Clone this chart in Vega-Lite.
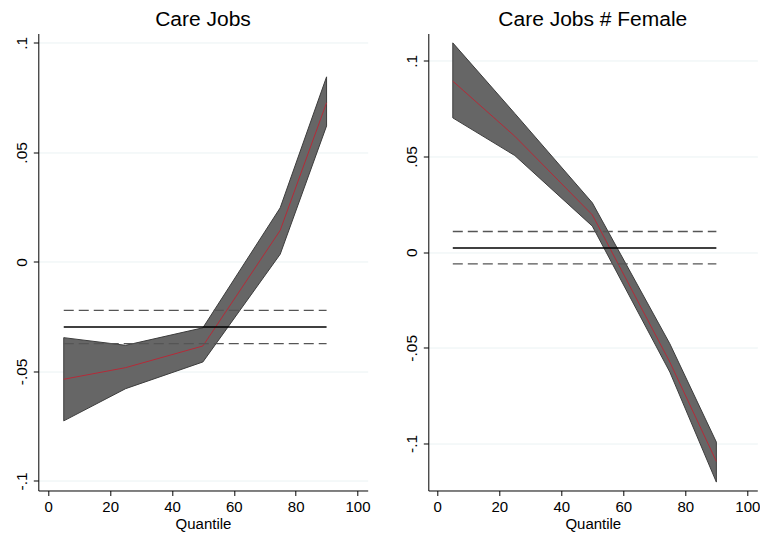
{
  "$schema": "https://vega.github.io/schema/vega-lite/v6.json",
  "padding": {"left": 8.3, "top": 8.5, "right": 0, "bottom": 0},
  "background": "white",
  "bounds": "flush",
  "spacing": 60,
  "config": {
    "font": "Liberation Sans",
    "view": {"stroke": null},
    "axis": {
      "domainColor": "#000000",
      "domainWidth": 1,
      "tickColor": "#000000",
      "tickSize": 5,
      "tickWidth": 1,
      "labelColor": "#000000",
      "labelFont": "Liberation Sans",
      "labelFontSize": 15,
      "titleFont": "Liberation Sans",
      "titleFontSize": 15,
      "titleFontWeight": "normal",
      "titleColor": "#000000",
      "gridColor": "#eaf2f3",
      "gridWidth": 1
    },
    "title": {
      "font": "Liberation Sans",
      "fontSize": 21,
      "fontWeight": "normal",
      "color": "#000000",
      "anchor": "middle",
      "frame": "group",
      "offset": 4
    }
  },
  "datasets": {
    "qr": [
      {"panel": "A", "q": 5, "lo": -0.0726, "est": -0.0536, "hi": -0.0346},
      {"panel": "A", "q": 25, "lo": -0.0579, "est": -0.0483, "hi": -0.0381},
      {"panel": "A", "q": 50, "lo": -0.0457, "est": -0.0384, "hi": -0.0301},
      {"panel": "A", "q": 75, "lo": 0.0035, "est": 0.0144, "hi": 0.0247},
      {"panel": "A", "q": 90, "lo": 0.0621, "est": 0.0727, "hi": 0.0845},
      {"panel": "B", "q": 5, "lo": 0.0702, "est": 0.0894, "hi": 0.1094},
      {"panel": "B", "q": 25, "lo": 0.0505, "est": 0.0606, "hi": 0.0725},
      {"panel": "B", "q": 50, "lo": 0.0136, "est": 0.0195, "hi": 0.0258},
      {"panel": "B", "q": 75, "lo": -0.0627, "est": -0.0575, "hi": -0.0479},
      {"panel": "B", "q": 90, "lo": -0.1202, "est": -0.1094, "hi": -0.0993}
    ],
    "ols": [
      {"panel": "A", "q": 5, "lo": -0.0373, "est": -0.0297, "hi": -0.0221},
      {"panel": "A", "q": 90, "lo": -0.0373, "est": -0.0297, "hi": -0.0221},
      {"panel": "B", "q": 5, "lo": -0.0061, "est": 0.0022, "hi": 0.0108},
      {"panel": "B", "q": 90, "lo": -0.0061, "est": 0.0022, "hi": 0.0108}
    ]
  },
  "hconcat": [
    {
      "width": 329.4,
      "height": 457,
      "title": {"text": "Care Jobs"},
      "encoding": {
        "x": {"field": "q", "type": "quantitative",
              "scale": {"domain": [-3.23, 103.3], "nice": false, "zero": false},
              "axis": {"values": [0, 20, 40, 60, 80, 100], "title": "Quantile", "grid": false, "labelPadding": 4, "titlePadding": 2, "labelFlush": false}}
      },
      "layer": [
        {
          "data": {"name": "qr"},
          "transform": [{"filter": "datum.panel == 'A'"}],
          "mark": {"type": "area", "color": "#666666", "stroke": "#3c3c3c", "strokeWidth": 1, "opacity": 1},
          "encoding": {
            "y": {"field": "hi", "type": "quantitative",
                  "scale": {"domain": [-0.1044, 0.1043], "nice": false, "zero": false},
                  "axis": {"values": [-0.1, -0.05, 0, 0.05, 0.1], "title": null, "grid": true, "labelAngle": -90, "labelAlign": "center", "labelBaseline": "alphabetic", "labelPadding": 6.6, "labelFontSize": 15.5, "minExtent": 30, "maxExtent": 30,
                           "labelExpr": "datum.value == 0 ? '0' : (datum.value < 0 ? '-' : '') + replace(format(abs(datum.value), '.2~f'), '0.', '.')"}},
            "y2": {"field": "lo"}
          }
        },
        {
          "data": {"name": "qr"},
          "transform": [{"filter": "datum.panel == 'A'"}],
          "mark": {"type": "line", "color": "#b52a38", "strokeWidth": 1},
          "encoding": {"y": {"field": "est", "type": "quantitative"}}
        },
        {
          "data": {"name": "ols"},
          "transform": [{"filter": "datum.panel == 'A'"}],
          "mark": {"type": "line", "color": "#000000", "strokeWidth": 1.4},
          "encoding": {"y": {"field": "est", "type": "quantitative"}}
        },
        {
          "data": {"name": "ols"},
          "transform": [{"filter": "datum.panel == 'A'"}],
          "mark": {"type": "line", "color": "#555555", "strokeWidth": 1.3, "strokeDash": [10, 5]},
          "encoding": {"y": {"field": "hi", "type": "quantitative"}}
        },
        {
          "data": {"name": "ols"},
          "transform": [{"filter": "datum.panel == 'A'"}],
          "mark": {"type": "line", "color": "#555555", "strokeWidth": 1.3, "strokeDash": [10, 5]},
          "encoding": {"y": {"field": "lo", "type": "quantitative"}}
        }
      ]
    },
    {
      "width": 329,
      "height": 457,
      "title": {"text": "Care Jobs # Female"},
      "encoding": {
        "x": {"field": "q", "type": "quantitative",
              "scale": {"domain": [-2.9, 103.2], "nice": false, "zero": false},
              "axis": {"values": [0, 20, 40, 60, 80, 100], "title": "Quantile", "grid": false, "labelPadding": 4, "titlePadding": 2, "labelFlush": false}}
      },
      "layer": [
        {
          "data": {"name": "qr"},
          "transform": [{"filter": "datum.panel == 'B'"}],
          "mark": {"type": "area", "color": "#666666", "stroke": "#3c3c3c", "strokeWidth": 1, "opacity": 1},
          "encoding": {
            "y": {"field": "hi", "type": "quantitative",
                  "scale": {"domain": [-0.1246, 0.1143], "nice": false, "zero": false},
                  "axis": {"values": [-0.1, -0.05, 0, 0.05, 0.1], "title": null, "grid": true, "labelAngle": -90, "labelAlign": "center", "labelBaseline": "alphabetic", "labelPadding": 6.6, "labelFontSize": 15.5, "minExtent": 30, "maxExtent": 30,
                           "labelExpr": "datum.value == 0 ? '0' : (datum.value < 0 ? '-' : '') + replace(format(abs(datum.value), '.2~f'), '0.', '.')"}},
            "y2": {"field": "lo"}
          }
        },
        {
          "data": {"name": "qr"},
          "transform": [{"filter": "datum.panel == 'B'"}],
          "mark": {"type": "line", "color": "#b52a38", "strokeWidth": 1},
          "encoding": {"y": {"field": "est", "type": "quantitative"}}
        },
        {
          "data": {"name": "ols"},
          "transform": [{"filter": "datum.panel == 'B'"}],
          "mark": {"type": "line", "color": "#000000", "strokeWidth": 1.4},
          "encoding": {"y": {"field": "est", "type": "quantitative"}}
        },
        {
          "data": {"name": "ols"},
          "transform": [{"filter": "datum.panel == 'B'"}],
          "mark": {"type": "line", "color": "#555555", "strokeWidth": 1.3, "strokeDash": [10, 5]},
          "encoding": {"y": {"field": "hi", "type": "quantitative"}}
        },
        {
          "data": {"name": "ols"},
          "transform": [{"filter": "datum.panel == 'B'"}],
          "mark": {"type": "line", "color": "#555555", "strokeWidth": 1.3, "strokeDash": [10, 5]},
          "encoding": {"y": {"field": "lo", "type": "quantitative"}}
        }
      ]
    }
  ]
}
